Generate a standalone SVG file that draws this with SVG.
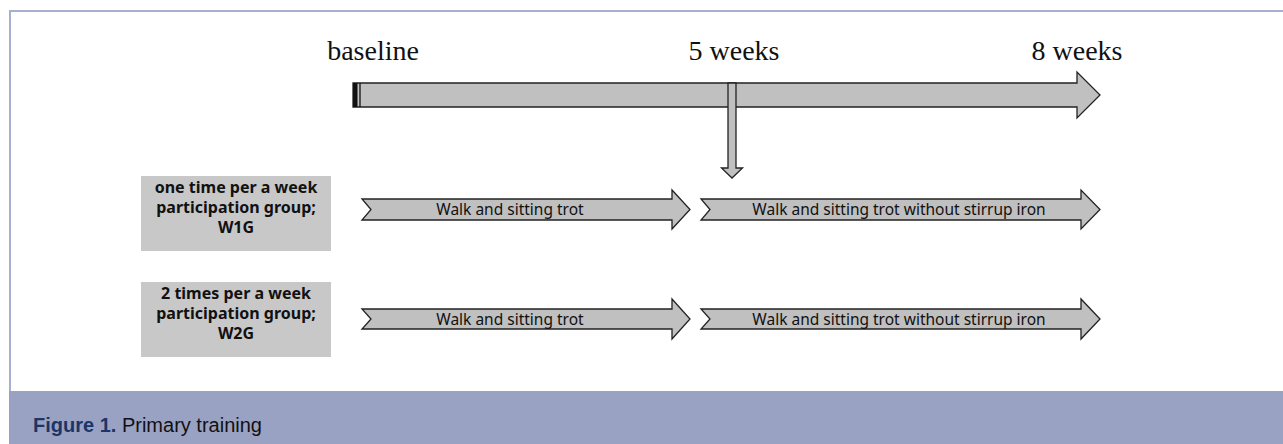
<svg xmlns="http://www.w3.org/2000/svg" width="1283" height="444" viewBox="0 0 1283 444">
<style>
.tl{font-family:"Liberation Serif","Times New Roman",serif;font-size:28px;fill:#111;text-anchor:middle}
.box{fill:#c8c8c8}
.bl{font-family:"Noto Sans","Open Sans",sans-serif;font-weight:bold;font-size:16px;fill:#111;text-anchor:middle}
.arr{fill:#c0c0c0;stroke:#222;stroke-width:1.3;stroke-linejoin:miter}
.at{font-family:"Noto Sans","Open Sans",sans-serif;font-size:15.5px;fill:#111;text-anchor:middle}
</style>
<rect x="0" y="0" width="1283" height="444" fill="#fff"/>
<path d="M10 391 V11 H1283" fill="none" stroke="#a9afd0" stroke-width="2"/>

<g id="timeline">
<text class="tl" x="373" y="60">baseline</text>
<text class="tl" x="734" y="60">5 weeks</text>
<text class="tl" x="1077" y="60">8 weeks</text>
<polygon class="arr" points="353,83 1077,83 1077,72 1100,95 1077,118 1077,107 353,107"/>
<rect x="353" y="83" width="4.5" height="24" fill="#111"/>
<line x1="360" y1="83" x2="360" y2="107" stroke="#111" stroke-width="1.3"/>
</g>

<g id="connectors">
<polygon class="arr" points="728,83 736,83 736,168 742.5,168 732,178 721.5,168 728,168"/>
</g>

<g id="w1g">
<rect class="box" x="141" y="176" width="190" height="75"/>
<text class="bl" x="236" y="193">one time per a week</text>
<text class="bl" x="236" y="213">participation group;</text>
<text class="bl" x="236" y="233">W1G</text>
</g>
<g id="w1g-phase1">
<polygon class="arr" points="362,199 672,199 672,190 690,209.5 672,229 672,220 362,220 371,209.5"/>
<text class="at" x="510" y="215">Walk and sitting trot</text>
</g>
<g id="w1g-phase2">
<polygon class="arr" points="701,199 1081,199 1081,190 1100,209.5 1081,229 1081,220 701,220 710,209.5"/>
<text class="at" x="899" y="215">Walk and sitting trot without stirrup iron</text>
</g>

<g id="w2g">
<rect class="box" x="141" y="282" width="190" height="75"/>
<text class="bl" x="236" y="299">2 times per a week</text>
<text class="bl" x="236" y="319">participation group;</text>
<text class="bl" x="236" y="339">W2G</text>
</g>
<g id="w2g-phase1">
<polygon class="arr" points="362,309 672,309 672,299 690,319 672,339 672,329 362,329 371,319"/>
<text class="at" x="510" y="324.5">Walk and sitting trot</text>
</g>
<g id="w2g-phase2">
<polygon class="arr" points="701,309 1081,309 1081,299 1100,319 1081,339 1081,329 701,329 710,319"/>
<text class="at" x="899" y="324.5">Walk and sitting trot without stirrup iron</text>
</g>

<g id="caption">
<rect x="9" y="391" width="1274" height="53" fill="#9aa2c3"/>
<text x="33" y="432" font-family="'Liberation Sans',Arial,sans-serif" font-size="20"><tspan font-weight="bold" fill="#1c3566">Figure 1.</tspan><tspan fill="#111"> Primary training</tspan></text>
</g>
</svg>
